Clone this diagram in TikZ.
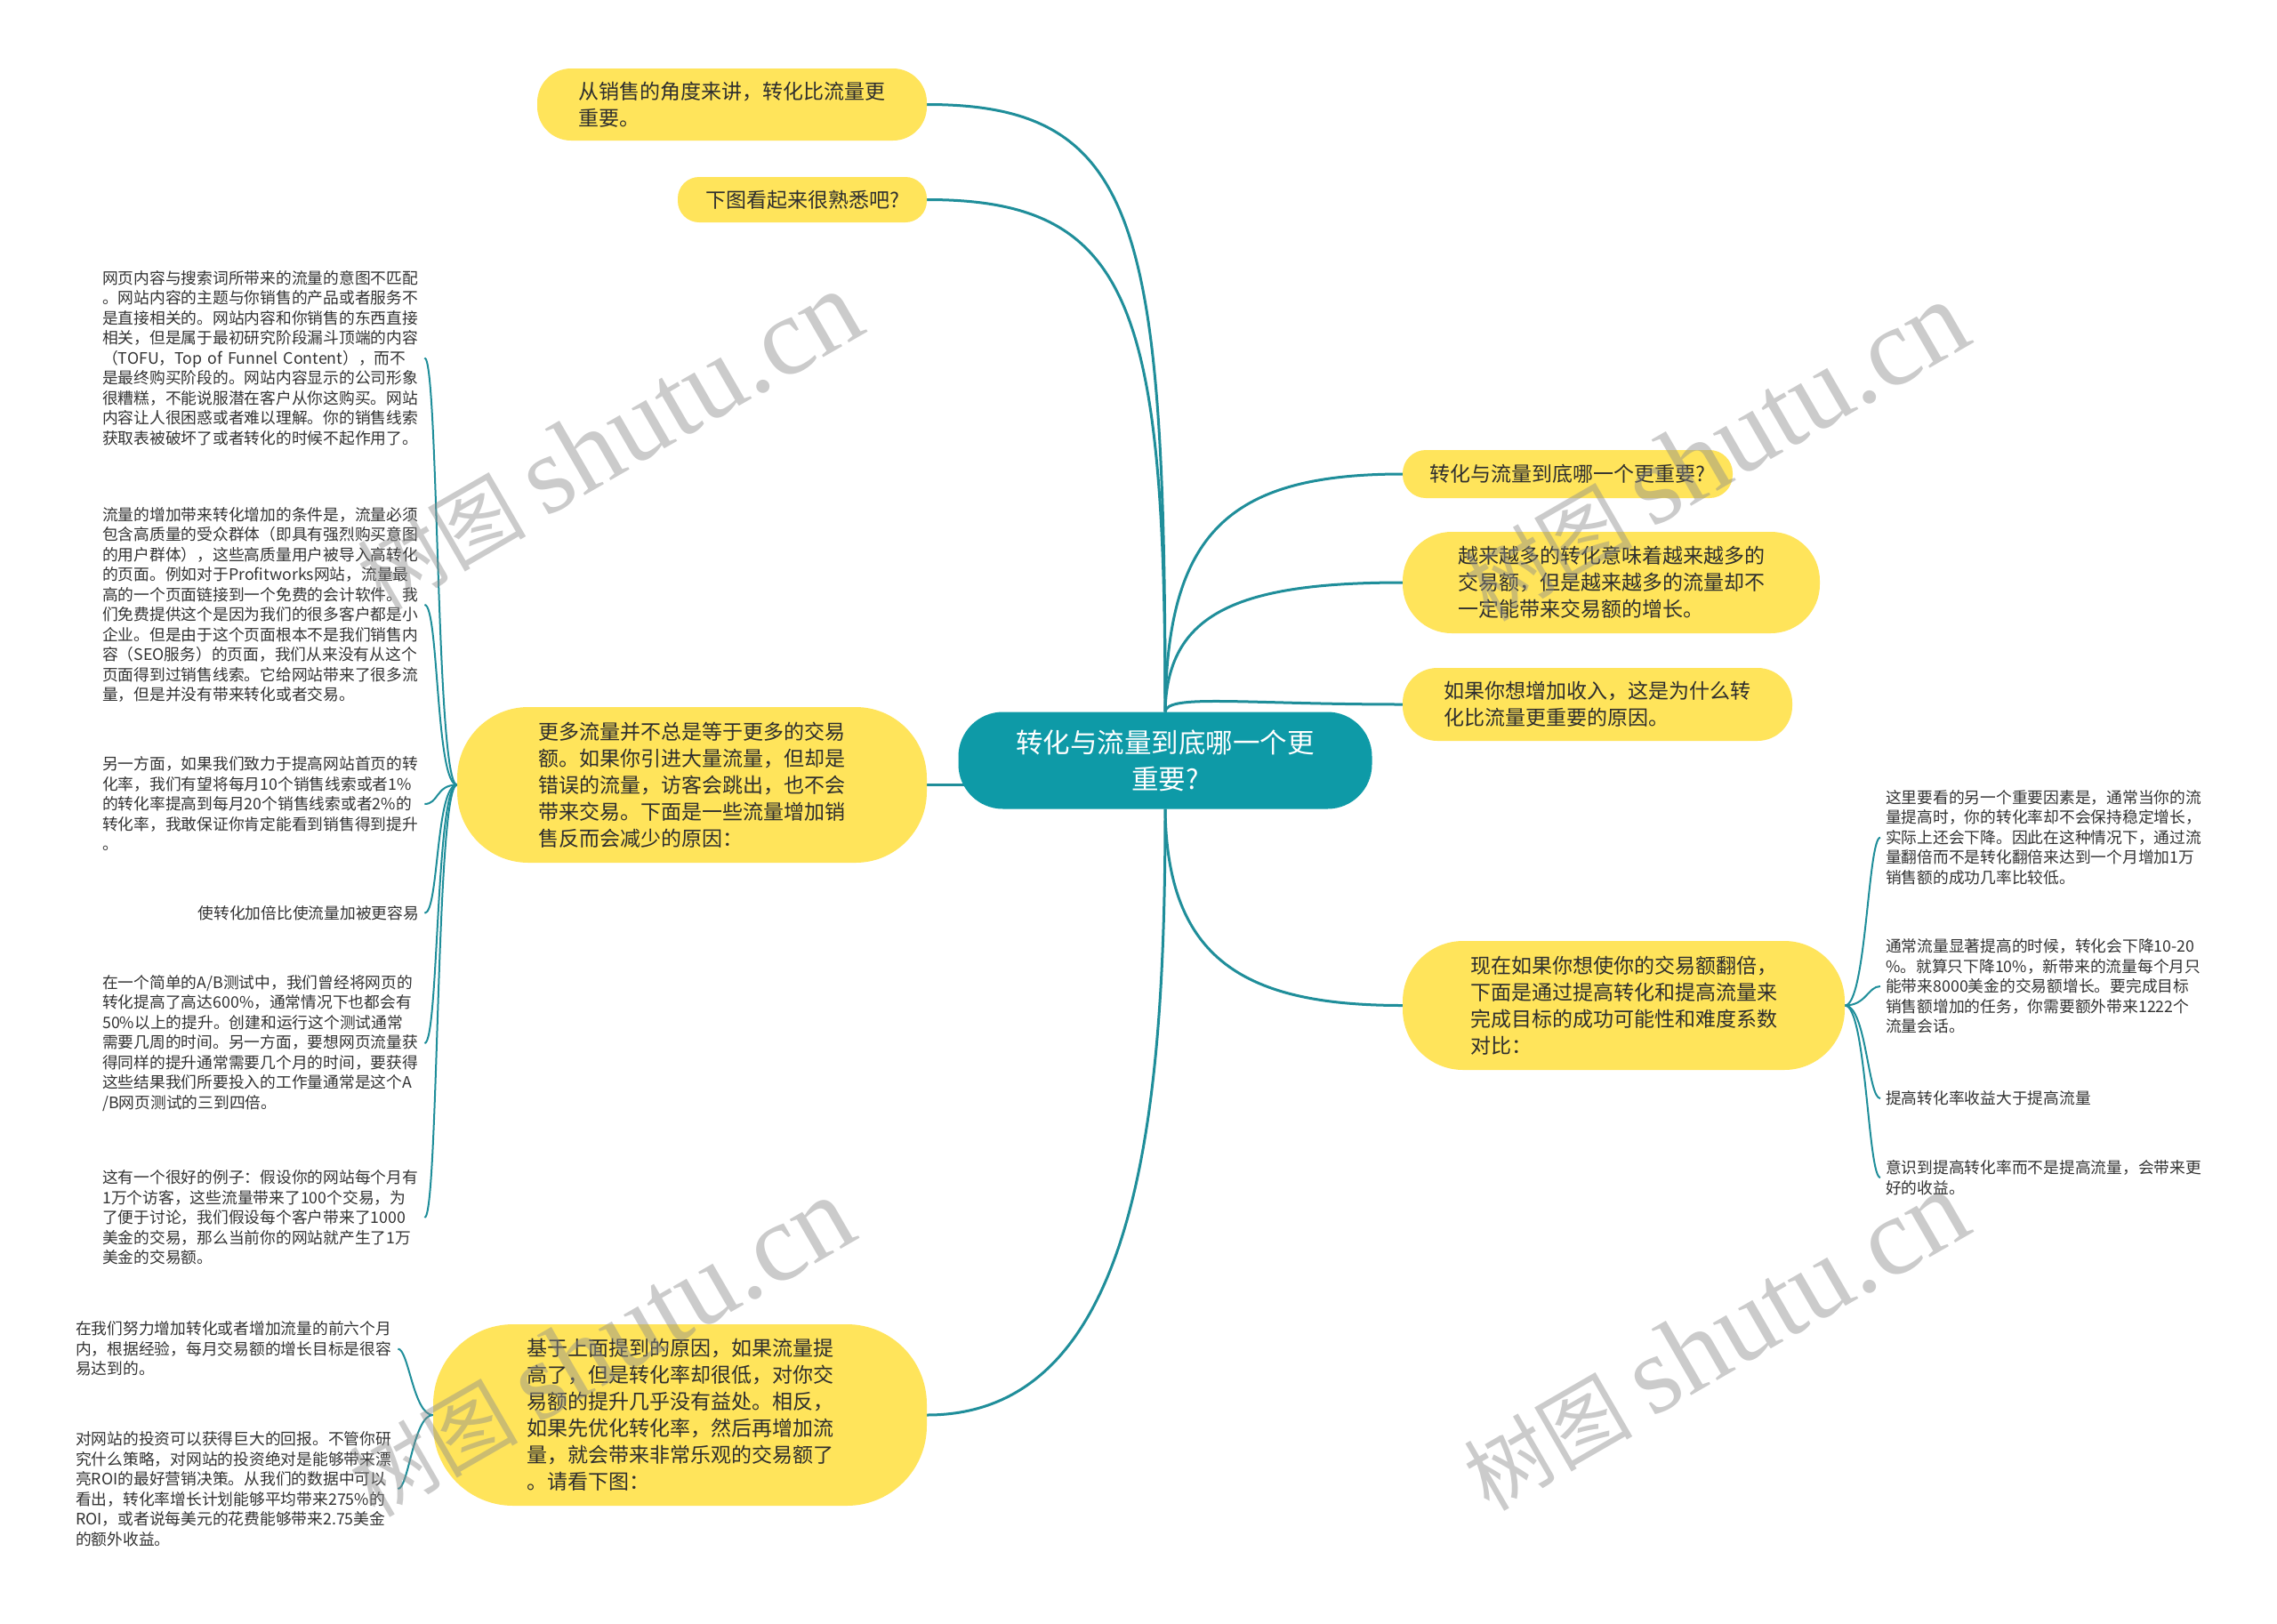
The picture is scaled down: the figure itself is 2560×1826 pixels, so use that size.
\documentclass[tikz,border=0pt]{standalone}
\usepackage{fontspec}
\setmainfont{Noto Sans CJK SC}
\newfontfamily\wmlatin{Liberation Serif}
\usetikzlibrary{backgrounds}
\definecolor{centerfill}{HTML}{0E9AA7}
\definecolor{edgecol}{HTML}{1F8E9A}
\definecolor{yel}{HTML}{FFE45B}
\definecolor{txt}{HTML}{2E2E2E}
\definecolor{leaftxt}{HTML}{333333}
\definecolor{wmcol}{HTML}{8C8C8C}
\newcommand{\wmtext}{树图 {\wmlatin\fontsize{125}{125}\selectfont shutu.cn}}
\tikzset{
  centernode/.style={fill=centerfill, text=white, font=\fontsize{30.5}{41}\selectfont,
    align=center, inner sep=0pt, rounded corners=50},
  yelnode/.style={fill=yel, text=txt, font=\fontsize{23}{30}\selectfont,
    align=left, inner sep=0pt},
  leafnode/.style={text=leaftxt, font=\fontsize{17.75}{22.5}\selectfont,
    align=left, inner xsep=6pt, inner ysep=0pt, text width=356},
  mainedge/.style={draw=edgecol, line width=3pt},
  leafedge/.style={draw=edgecol, line width=2pt},
  wmark/.style={text=wmcol, opacity=0.45, rotate=30, inner sep=0pt,
    font=\fontsize{95}{95}\selectfont}
}
\begin{document}
\begin{tikzpicture}[x=1pt,y=-1pt]
\useasboundingbox (0,0) rectangle (2560,1826);

% central node
\node[centernode, minimum width=465, minimum height=109] (c) at (1310,855)
  {转化与流量到底哪一个更\\重要?};

% first-level nodes
\node[yelnode, minimum width=438, minimum height=81, rounded corners=38] (n1) at (823,117.5)
  {从销售的角度来讲，转化比流量更\\重要。};
\node[yelnode, minimum width=280, minimum height=51, rounded corners=24] (n2) at (902,224.5)
  {下图看起来很熟悉吧?};
\node[yelnode, minimum width=371, minimum height=54, rounded corners=26] (r1) at (1762.5,533)
  {转化与流量到底哪一个更重要?};
\node[yelnode, minimum width=469, minimum height=114, rounded corners=55] (r2) at (1811.5,655)
  {越来越多的转化意味着越来越多的\\交易额，但是越来越多的流量却不\\一定能带来交易额的增长。};
\node[yelnode, minimum width=438, minimum height=82, rounded corners=39] (r3) at (1796,792)
  {如果你想增加收入，这是为什么转\\化比流量更重要的原因。};
\node[yelnode, minimum width=497, minimum height=145, rounded corners=68] (r4) at (1825.5,1130.5)
  {现在如果你想使你的交易额翻倍，\\下面是通过提高转化和提高流量来\\完成目标的成功可能性和难度系数\\对比：};
\node[yelnode, minimum width=528, minimum height=175, rounded corners=80] (l1) at (778,882.5)
  {更多流量并不总是等于更多的交易\\额。如果你引进大量流量，但却是\\错误的流量，访客会跳出，也不会\\带来交易。下面是一些流量增加销\\售反而会减少的原因：};
\node[yelnode, minimum width=555, minimum height=204, rounded corners=90] (l2) at (764.5,1591)
  {基于上面提到的原因，如果流量提\\高了，但是转化率却很低，对你交\\易额的提升几乎没有益处。相反，\\如果先优化转化率，然后再增加流\\量，就会带来非常乐观的交易额了\\。请看下图：};

% left leaves
\node[leafnode, anchor=west] (ll1) at (109,402.5)
  {网页内容与搜索词所带来的流量的意图不匹配\\。网站内容的主题与你销售的产品或者服务不\\是直接相关的。网站内容和你销售的东西直接\\相关，但是属于最初研究阶段漏斗顶端的内容\\（TOFU，Top of Funnel Content），而不\\是最终购买阶段的。网站内容显示的公司形象\\很糟糕，不能说服潜在客户从你这购买。网站\\内容让人很困惑或者难以理解。你的销售线索\\获取表被破坏了或者转化的时候不起作用了。};
\node[leafnode, anchor=west] (ll2) at (109,680)
  {流量的增加带来转化增加的条件是，流量必须\\包含高质量的受众群体（即具有强烈购买意图\\的用户群体），这些高质量用户被导入高转化\\的页面。例如对于Profitworks网站，流量最\\高的一个页面链接到一个免费的会计软件。我\\们免费提供这个是因为我们的很多客户都是小\\企业。但是由于这个页面根本不是我们销售内\\容（SEO服务）的页面，我们从来没有从这个\\页面得到过销售线索。它给网站带来了很多流\\量，但是并没有带来转化或者交易。};
\node[leafnode, anchor=west] (ll3) at (109,904)
  {另一方面，如果我们致力于提高网站首页的转\\化率，我们有望将每月10个销售线索或者1\%\\的转化率提高到每月20个销售线索或者2\%的\\转化率，我敢保证你肯定能看到销售得到提升\\。};
\node[leafnode, anchor=west, align=right] (ll4) at (109,1026.7)
  {使转化加倍比使流量加被更容易};
\node[leafnode, anchor=west] (ll5) at (109,1173)
  {在一个简单的A/B测试中，我们曾经将网页的\\转化提高了高达600\%，通常情况下也都会有\\50\%以上的提升。创建和运行这个测试通常\\需要几周的时间。另一方面，要想网页流量获\\得同样的提升通常需要几个月的时间，要获得\\这些结果我们所要投入的工作量通常是这个A\\/B网页测试的三到四倍。};
\node[leafnode, anchor=west] (ll6) at (109,1369)
  {这有一个很好的例子：假设你的网站每个月有\\1万个访客，这些流量带来了100个交易，为\\了便于讨论，我们假设每个客户带来了1000\\美金的交易，那么当前你的网站就产生了1万\\美金的交易额。};

% bottom-left leaves
\node[leafnode, anchor=west] (bl1) at (79,1516.6)
  {在我们努力增加转化或者增加流量的前六个月\\内，根据经验，每月交易额的增长目标是很容\\易达到的。};
\node[leafnode, anchor=west] (bl2) at (79,1674)
  {对网站的投资可以获得巨大的回报。不管你研\\究什么策略，对网站的投资绝对是能够带来漂\\亮ROI的最好营销决策。从我们的数据中可以\\看出，转化率增长计划能够平均带来275\%的\\ROI，或者说每美元的花费能够带来2.75美金\\的额外收益。};

% right leaves
\node[leafnode, anchor=west] (rl1) at (2114,941.7)
  {这里要看的另一个重要因素是，通常当你的流\\量提高时，你的转化率却不会保持稳定增长，\\实际上还会下降。因此在这种情况下，通过流\\量翻倍而不是转化翻倍来达到一个月增加1万\\销售额的成功几率比较低。};
\node[leafnode, anchor=west] (rl2) at (2114,1109)
  {通常流量显著提高的时候，转化会下降10-20\\\%。就算只下降10\%，新带来的流量每个月只\\能带来8000美金的交易额增长。要完成目标\\销售额增加的任务，你需要额外带来1222个\\流量会话。};
\node[leafnode, anchor=west] (rl3) at (2114,1235)
  {提高转化率收益大于提高流量};
\node[leafnode, anchor=west] (rl4) at (2114,1324)
  {意识到提高转化率而不是提高流量，会带来更\\好的收益。};

% connectors
\begin{scope}[on background layer]
\fill[white] (0,0) rectangle (2560,1826);
\draw[mainedge] (c.north) .. controls (1310,250) and (1280,117.5) .. (n1.east);
\draw[mainedge] (c.north) .. controls (1310,340) and (1270,224.5) .. (n2.east);
\draw[mainedge] (c.north) .. controls (1312,600) and (1380,533) .. (r1.west);
\draw[mainedge] (c.north) .. controls (1312,690) and (1390,655) .. (r2.west);
\draw[mainedge] (c.north) .. controls (1312,780) and (1400,792) .. (r3.west);
\draw[mainedge] (c.south) .. controls (1312,1080) and (1400,1130.5) .. (r4.west);
\draw[mainedge] (c.south) .. controls (1310,1250) and (1280,1591) .. (l2.east);
\draw[mainedge] (l1.east) -- (l1.east -| c.west) -- ++(30,0);
\foreach \leaf in {ll1,ll2,ll3,ll4,ll5,ll6}
  \draw[leafedge] (l1.west) .. controls +(-24,0) and +(16,0) .. (\leaf.east);
\foreach \leaf in {bl1,bl2}
  \draw[leafedge] (l2.west) .. controls +(-22,0) and +(12,0) .. (\leaf.east);
\foreach \leaf in {rl1,rl2,rl3,rl4}
  \draw[leafedge] (r4.east) .. controls +(24,0) and +(-14,0) .. (\leaf.west);
\end{scope}

% watermarks
\node[wmark] (w1) at (684,496) {\wmtext};
\node[wmark] (w2) at (1928,508) {\wmtext};
\node[wmark] (w3) at (675,1515) {\wmtext};
\node[wmark] (w4) at (1928,1508) {\wmtext};
\end{tikzpicture}
\end{document}
